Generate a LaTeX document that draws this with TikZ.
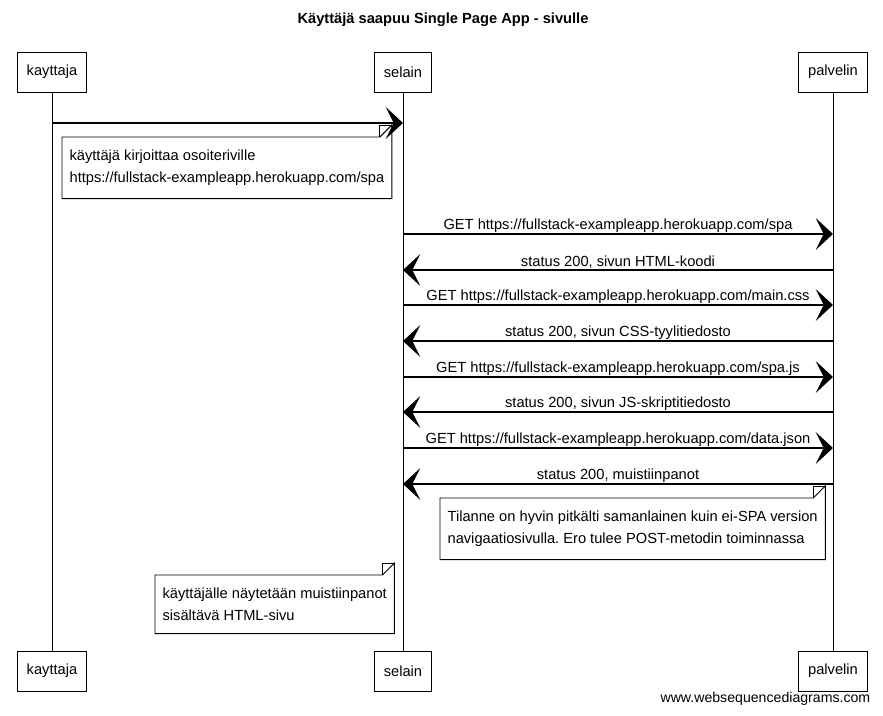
\documentclass[tikz,border=0pt]{standalone}
\usepackage{fontspec}
\setmainfont{Liberation Sans}
\usetikzlibrary{arrows.meta}
\frenchspacing
\begin{document}
\begin{tikzpicture}[x=0.75pt,y=-0.75pt,
  font=\fontsize{11}{16.5}\selectfont,
  actor/.style={draw,line width=0.7pt,minimum height=30pt,inner xsep=7pt},
  life/.style={line width=0.6pt},
  msg/.style={line width=0.8pt,-{Stealth[length=13pt,width=24pt,inset=6pt]}},
  lbl/.style={above,inner sep=1pt},
  notetext/.style={anchor=north west,align=left,inner xsep=5.5pt,inner ysep=9.5pt},
  noteline/.style={line width=0.7pt}]
\useasboundingbox (0,0) rectangle (883,715);
% otsikko
\node (title) at (443,20) {\bfseries Käyttäjä saapuu Single Page App - sivulle};
% osapuolet
\node[actor] (kayttaja) at (52,72) {kayttaja};
\node[actor] (selain) at (403,72) {selain};
\node[actor] (palvelin) at (833,72) {palvelin};
\node[actor] (kayttaja2) at (52,671) {kayttaja};
\node[actor] (selain2) at (403,671) {selain};
\node[actor] (palvelin2) at (833,671) {palvelin};
\draw[life] (kayttaja.south) -- (kayttaja2.north);
\draw[life] (selain.south) -- (selain2.north);
\draw[life] (palvelin.south) -- (palvelin2.north);
% viestit
\coordinate (k1) at (52,123);
\coordinate (s1) at (403,123);
\draw[msg] (k1) -- (s1);
\node[notetext] (note1) at (62,137) {käyttäjä kirjoittaa osoiteriville\\https://fullstack-exampleapp.herokuapp.com/spa};
\draw[noteline] (note1.north west) -- ([xshift=-9]note1.north east) -- ([yshift=9]note1.north east) -- (note1.south east) -- (note1.south west) -- cycle;
\draw[noteline] ([xshift=-9]note1.north east) -- ([xshift=-9,yshift=9]note1.north east) -- ([yshift=9]note1.north east);
\coordinate (s2) at (403,234);
\coordinate (p2) at (833,234);
\draw[msg] (s2) -- node[lbl] {GET https://fullstack-exampleapp.herokuapp.com/spa} (p2);
\coordinate (s3) at (403,270);
\coordinate (p3) at (833,270);
\draw[msg] (p3) -- node[lbl] {status 200, sivun HTML-koodi} (s3);
\coordinate (s4) at (403,305);
\coordinate (p4) at (833,305);
\draw[msg] (s4) -- node[lbl] {GET https://fullstack-exampleapp.herokuapp.com/main.css} (p4);
\coordinate (s5) at (403,341);
\coordinate (p5) at (833,341);
\draw[msg] (p5) -- node[lbl] {status 200, sivun CSS-tyylitiedosto} (s5);
\coordinate (s6) at (403,377);
\coordinate (p6) at (833,377);
\draw[msg] (s6) -- node[lbl] {GET https://fullstack-exampleapp.herokuapp.com/spa.js} (p6);
\coordinate (s7) at (403,412);
\coordinate (p7) at (833,412);
\draw[msg] (p7) -- node[lbl] {status 200, sivun JS-skriptitiedosto} (s7);
\coordinate (s8) at (403,448);
\coordinate (p8) at (833,448);
\draw[msg] (s8) -- node[lbl] {GET https://fullstack-exampleapp.herokuapp.com/data.json} (p8);
\coordinate (s9) at (403,484);
\coordinate (p9) at (833,484);
\draw[msg] (p9) -- node[lbl] {status 200, muistiinpanot} (s9);
% huomautukset
\node[notetext] (note2) at (440,498) {Tilanne on hyvin pitkälti samanlainen kuin ei-SPA version\\navigaatiosivulla. Ero tulee POST-metodin toiminnassa};
\draw[noteline] (note2.north west) -- ([xshift=-9]note2.north east) -- ([yshift=9]note2.north east) -- (note2.south east) -- (note2.south west) -- cycle;
\draw[noteline] ([xshift=-9]note2.north east) -- ([xshift=-9,yshift=9]note2.north east) -- ([yshift=9]note2.north east);
\node[notetext] (note3) at (155,575) {käyttäjälle näytetään muistiinpanot\\sisältävä HTML-sivu};
\draw[noteline] (note3.north west) -- ([xshift=-9]note3.north east) -- ([yshift=9]note3.north east) -- (note3.south east) -- (note3.south west) -- cycle;
\draw[noteline] ([xshift=-9]note3.north east) -- ([xshift=-9,yshift=9]note3.north east) -- ([yshift=9]note3.north east);
\node[anchor=east,font=\fontsize{10.6}{12}\selectfont] (wsd) at (875,699) {www.websequencediagrams.com};
\end{tikzpicture}
\end{document}
